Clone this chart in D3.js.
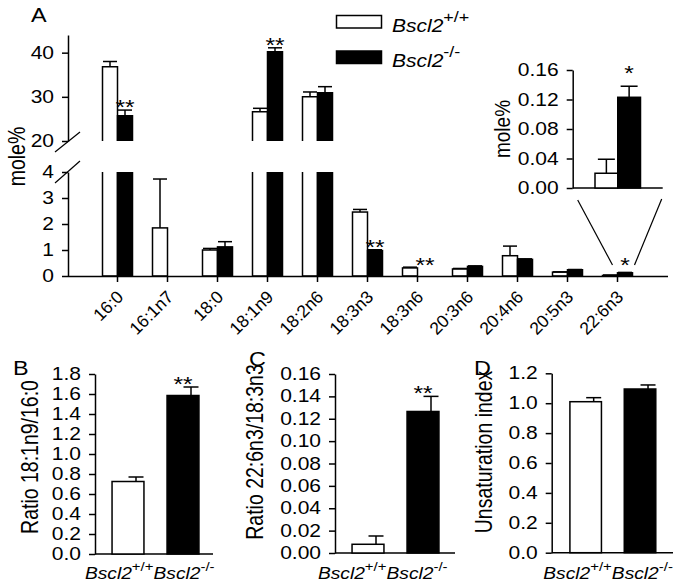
<!DOCTYPE html>
<html><head><meta charset="utf-8">
<script src="https://cdn.jsdelivr.net/npm/d3@7"></script>
<style>
body{margin:0;background:#fff;}
svg text{font-family:"Liberation Sans",Arial,sans-serif;fill:#000;}
</style></head><body>
<svg id="chart" width="691" height="588"></svg>
<script>
// ---------- DATA ----------
const categories = ["16:0","16:1n7","18:0","18:1n9","18:2n6","18:3n3","18:3n6","20:3n6","20:4n6","20:5n3","22:6n3"];
const wtMean = [36.8, 1.85, 1.00, 26.6, 30.0, 2.46, 0.31, 0.27, 0.78, 0.15, 0.020];
const wtErr  = [1.2,  1.88, 0.06, 0.8,  1.1,  0.10, 0.03, 0.02, 0.37, 0.01, 0.019];
const koMean = [25.7, 0.0,  1.12, 40.2, 30.9, 0.98, 0.0,  0.37, 0.64, 0.24, 0.123];
const koErr  = [1.3,  0.0,  0.20, 0.9,  1.4,  0.03, 0.0,  0.02, 0.02, 0.01, 0.015];
const sigA   = ["**","","","**","","**","**","","","","*"];
const ticksALow = [0,1,2,3,4];
const ticksAHigh = [20,30,40];

const genotypes = ["wt","ko"];
const genotypeSup = ["+/+","-/-"];

const insetMean = [0.020, 0.123];
const insetErr  = [0.019, 0.015];
const insetSig  = ["","*"];
const ticksInset = [0,0.04,0.08,0.12,0.16];

const ratioB = [0.725, 1.585];
const errB   = [0.045, 0.085];
const sigB   = ["","**"];
const ticksB = [0,0.2,0.4,0.6,0.8,1.0,1.2,1.4,1.6,1.8];

const ratioC = [0.0078, 0.1265];
const errC   = [0.0074, 0.0135];
const sigC   = ["","**"];
const ticksC = [0,0.02,0.04,0.06,0.08,0.10,0.12,0.14,0.16];

const unsatD = [1.010, 1.095];
const errD   = [0.027, 0.027];
const sigD   = ["",""];
const ticksD = [0,0.2,0.4,0.6,0.8,1.0,1.2];

// ---------- DRAW ----------
const svg = d3.select("#chart");
const SW = 1.5;
const SX = 1.2;   // horizontal stretch of the original figure's lettering
const TICK_FS = 17.5;
const fills = {wt:"#fff", ko:"#000"};

function styleAxis(g){
  g.selectAll(".domain").attr("stroke","#000").attr("stroke-width",SW);
  g.selectAll(".tick line").attr("stroke","#000").attr("stroke-width",SW);
  g.selectAll(".tick text").attr("font-size",TICK_FS).attr("font-family","Liberation Sans, Arial, sans-serif").attr("fill","#000")
    .each(function(){ const t=d3.select(this); t.attr("x", (+t.attr("x"))/SX).attr("transform",`scale(${SX},1)`); });
}
function txt(parent, x, y, fs, str, anchor, rot){
  return parent.append("text")
    .attr("transform",`translate(${x},${y}) scale(${SX},1)` + (rot ? ` rotate(${rot})` : ""))
    .attr("font-size",fs).attr("text-anchor",anchor||"start").text(str);
}
function genoLabel(parent, x, y, sup, fs, sfs, dy, anchor){
  const t = parent.append("text").attr("transform",`translate(${x},${y}) scale(${SX},1)`).attr("text-anchor",anchor||"start");
  t.append("tspan").attr("font-style","italic").attr("font-size",fs).text("Bscl2");
  t.append("tspan").attr("font-size",sfs).attr("dy",dy).text(sup);
  return t;
}

// ===== Panel A =====
const A = svg.append("g");
const x0 = d3.scaleBand().domain(categories).range([67.5,667.5]).paddingInner(0).paddingOuter(0.5);
const x1 = d3.scaleBand().domain(genotypes).range([x0.bandwidth()*0.2, x0.bandwidth()*0.8]);
const yLow = d3.scaleLinear().domain([0,4]).range([276,172]);
const yHigh = d3.scaleLinear().domain([20,44]).range([141,35]);
const yA = v => v <= 4 ? yLow(v) : yHigh(v);

txt(A, 31, 22, 19.5, "A");

// y axes
const gLow = A.append("g").attr("transform","translate(68,0)")
  .call(d3.axisLeft(yLow).tickValues(ticksALow).tickFormat(d3.format("d")).tickSize(6).tickPadding(8).tickSizeOuter(0));
styleAxis(gLow);
const gHigh = A.append("g").attr("transform","translate(68,0)")
  .call(d3.axisLeft(yHigh).tickValues(ticksAHigh).tickFormat(d3.format("d")).tickSize(6).tickPadding(8).tickSizeOuter(0));
styleAxis(gHigh);
// break marks
[[yHigh(20)+11, yHigh(20)-9],[yLow(4)+11, yLow(4)-11]].forEach(([ya,yb])=>{
  A.append("line").attr("x1",55).attr("y1",ya).attr("x2",80).attr("y2",yb)
    .attr("stroke","#000").attr("stroke-width",1.2);
});
txt(A, 25, (yHigh(20)+yLow(4))/2, 19.5, "mole%", "middle", -90);

// bars
categories.forEach((c,i)=>{
  const vals = [wtMean[i], koMean[i]];
  const errs = [wtErr[i], koErr[i]];
  genotypes.forEach((gk,j)=>{
    const v = vals[j];
    const xa = x0(c)+x1(gk), xb = xa + x1.bandwidth();
    if (v <= 4){
      if (v > 0) A.append("rect").attr("x",xa).attr("y",yLow(v)).attr("width",x1.bandwidth())
        .attr("height",yLow(0)-yLow(v)).attr("fill",fills[gk]).attr("stroke","#000").attr("stroke-width",SW);
    } else {
      A.append("rect").attr("x",xa).attr("y",yLow(4)).attr("width",x1.bandwidth())
        .attr("height",yLow(0)-yLow(4)).attr("fill",fills[gk]);
      A.append("path").attr("d",`M${xa},${yLow(4)}V${yLow(0)}H${xb}V${yLow(4)}`)
        .attr("fill","none").attr("stroke","#000").attr("stroke-width",SW);
      A.append("rect").attr("x",xa).attr("y",yHigh(v)).attr("width",x1.bandwidth())
        .attr("height",yHigh(20)-yHigh(v)).attr("fill",fills[gk]);
      A.append("path").attr("d",`M${xa},${yHigh(20)}V${yHigh(v)}H${xb}V${yHigh(20)}`)
        .attr("fill","none").attr("stroke","#000").attr("stroke-width",SW);
    }
    if (errs[j] > 0){
      const cx = (xa+xb)/2, hw = x1.bandwidth()/2 - 0.5;
      const yt = yA(v+errs[j]), yb = yA(v);
      A.append("line").attr("x1",cx).attr("x2",cx).attr("y1",yb).attr("y2",yt).attr("stroke","#000").attr("stroke-width",SW);
      A.append("line").attr("x1",cx-hw).attr("x2",cx+hw).attr("y1",yt).attr("y2",yt).attr("stroke","#000").attr("stroke-width",SW);
    }
  });
  if (sigA[i]){
    const xa = x0(c)+x1("ko");
    const yb = Math.min(yA(koMean[i]+koErr[i]) + 4, yLow(0) - 4);
    txt(A, xa + x1.bandwidth()/2, yb, 20.5, sigA[i], "middle");
  }
});

// x axis
const gx = A.append("g").attr("transform",`translate(0,${yLow(0)})`)
  .call(d3.axisBottom(x0).tickSize(6).tickSizeOuter(0));
gx.selectAll(".domain").attr("stroke","#000").attr("stroke-width",SW);
gx.selectAll(".tick line").attr("stroke","#000").attr("stroke-width",SW);
gx.selectAll(".tick text").attr("font-size",17.5).attr("fill","#000").attr("font-family","Liberation Sans, Arial, sans-serif")
  .attr("text-anchor","end").attr("dy",null).attr("y",0).attr("x",0)
  .attr("transform","translate(7,22) rotate(-45)");

// legend
const legY = [15.5, 51];
const legBase = [32, 67];
genotypes.forEach((gk,j)=>{
  A.append("rect").attr("x",336.5).attr("y",legY[j]).attr("width",45).attr("height",12.5)
    .attr("fill",fills[gk]).attr("stroke","#000").attr("stroke-width",SW);
  genoLabel(A, 392, legBase[j], genotypeSup[j], 17.5, 15, -10);
});

// inset
const yIn = d3.scaleLinear().domain([0,0.16]).range([188,70]);
const xIn = d3.scaleBand().domain(genotypes).range([595,640.5]);
const gIn = A.append("g").attr("transform","translate(572.7,0)")
  .call(d3.axisLeft(yIn).tickValues(ticksInset).tickFormat(d3.format(".2f")).tickSize(6).tickPadding(8).tickSizeOuter(0));
styleAxis(gIn);
A.append("line").attr("x1",572.7).attr("x2",662.7).attr("y1",yIn(0)).attr("y2",yIn(0)).attr("stroke","#000").attr("stroke-width",SW);
txt(A, 510, (yIn(0)+yIn(0.16))/2, 19, "mole%", "middle", -90);
genotypes.forEach((gk,j)=>{
  const xa = xIn(gk), w = xIn.bandwidth();
  A.append("rect").attr("x",xa).attr("y",yIn(insetMean[j])).attr("width",w).attr("height",yIn(0)-yIn(insetMean[j]))
    .attr("fill",fills[gk]).attr("stroke","#000").attr("stroke-width",SW);
  const cx = xa + w/2, yt = yIn(insetMean[j]+insetErr[j]), hw = 8.5;
  A.append("line").attr("x1",cx).attr("x2",cx).attr("y1",yIn(insetMean[j])).attr("y2",yt).attr("stroke","#000").attr("stroke-width",SW);
  A.append("line").attr("x1",cx-hw).attr("x2",cx+hw).attr("y1",yt).attr("y2",yt).attr("stroke","#000").attr("stroke-width",SW);
  if (insetSig[j]) txt(A, cx, yt-6, 20.5, insetSig[j], "middle");
});
// zoom lines
const last = categories[categories.length-1];
A.append("line").attr("x1",577.7).attr("y1",yIn(0)+12).attr("x2",x0(last)+x1("wt")+10).attr("y2",yLow(0)-11).attr("stroke","#000").attr("stroke-width",1.2);
A.append("line").attr("x1",661.7).attr("y1",yIn(0)+11).attr("x2",x0(last)+x1("ko")+x1.bandwidth()+2).attr("y2",yLow(0)-11).attr("stroke","#000").attr("stroke-width",1.2);

// ===== Small panels =====
function smallPanel(opt){
  const g = svg.append("g");
  const y = d3.scaleLinear().domain([0, opt.max]).range([opt.y0, opt.y1]);
  const x = d3.scaleBand().domain(genotypes).range(opt.xr).paddingInner(0.42).paddingOuter(0.21);
  const ga = g.append("g").attr("transform",`translate(${opt.ax},0)`)
    .call(d3.axisLeft(y).tickValues(opt.ticks).tickFormat(d3.format(opt.fmt)).tickSize(6).tickPadding(8).tickSizeOuter(0));
  styleAxis(ga);
  g.append("line").attr("x1",opt.ax).attr("x2",opt.axEnd).attr("y1",y(0)).attr("y2",y(0)).attr("stroke","#000").attr("stroke-width",SW);
  txt(g, opt.lx, opt.ly, 19.5, opt.letter);
  txt(g, opt.tx, opt.ty, 19.5, opt.title, "middle", -90);
  genotypes.forEach((gk,j)=>{
    const xa = x(gk), w = x.bandwidth(), v = opt.vals[j];
    g.append("rect").attr("x",xa).attr("y",y(v)).attr("width",w).attr("height",y(0)-y(v))
      .attr("fill",fills[gk]).attr("stroke","#000").attr("stroke-width",SW);
    const ex = xa + w/2 + 8, yt = y(v+opt.errs[j]);
    g.append("line").attr("x1",ex).attr("x2",ex).attr("y1",y(v)).attr("y2",yt).attr("stroke","#000").attr("stroke-width",SW);
    g.append("line").attr("x1",ex-7.5).attr("x2",ex+7.5).attr("y1",yt).attr("y2",yt).attr("stroke","#000").attr("stroke-width",SW);
    if (opt.sig[j]) txt(g, xa+w/2, yt+4, 20.5, opt.sig[j], "middle");
  });
  // genotype labels: first ends where second begins, as in the figure
  const c0 = x(genotypes[0]) + x.bandwidth()/2, c1 = x(genotypes[1]) + x.bandwidth()/2;
  const mid = (c0 + c1)/2 + opt.lshift;
  genoLabel(g, mid, 579, genotypeSup[0], 16, 12.5, -8, "end");
  genoLabel(g, mid, 579, genotypeSup[1], 16, 12.5, -8, "start");
}
smallPanel({letter:"B",lx:13,ly:375,max:1.8,y0:554,y1:374,ax:95,axEnd:213,xr:[100.5,210.5],ticks:ticksB,fmt:".1f",
  vals:ratioB,errs:errB,sig:sigB,title:"Ratio 18:1n9/16:0",tx:38,ty:457,lshift:-2});
smallPanel({letter:"C",lx:249,ly:366,max:0.16,y0:553,y1:374,ax:335,axEnd:455,xr:[340.5,450.5],ticks:ticksC,fmt:".2f",
  vals:ratioC,errs:errC,sig:sigC,title:"Ratio 22:6n3/18:3n3",tx:263,ty:452,lshift:-9});
smallPanel({letter:"D",lx:474,ly:375,max:1.2,y0:552.7,y1:373.3,ax:551.7,axEnd:673,xr:[558.5,667.2],ticks:ticksD,fmt:".1f",
  vals:unsatD,errs:errD,sig:sigD,title:"Unsaturation index",tx:492,ty:452,lshift:-1});
</script>
</body></html>
